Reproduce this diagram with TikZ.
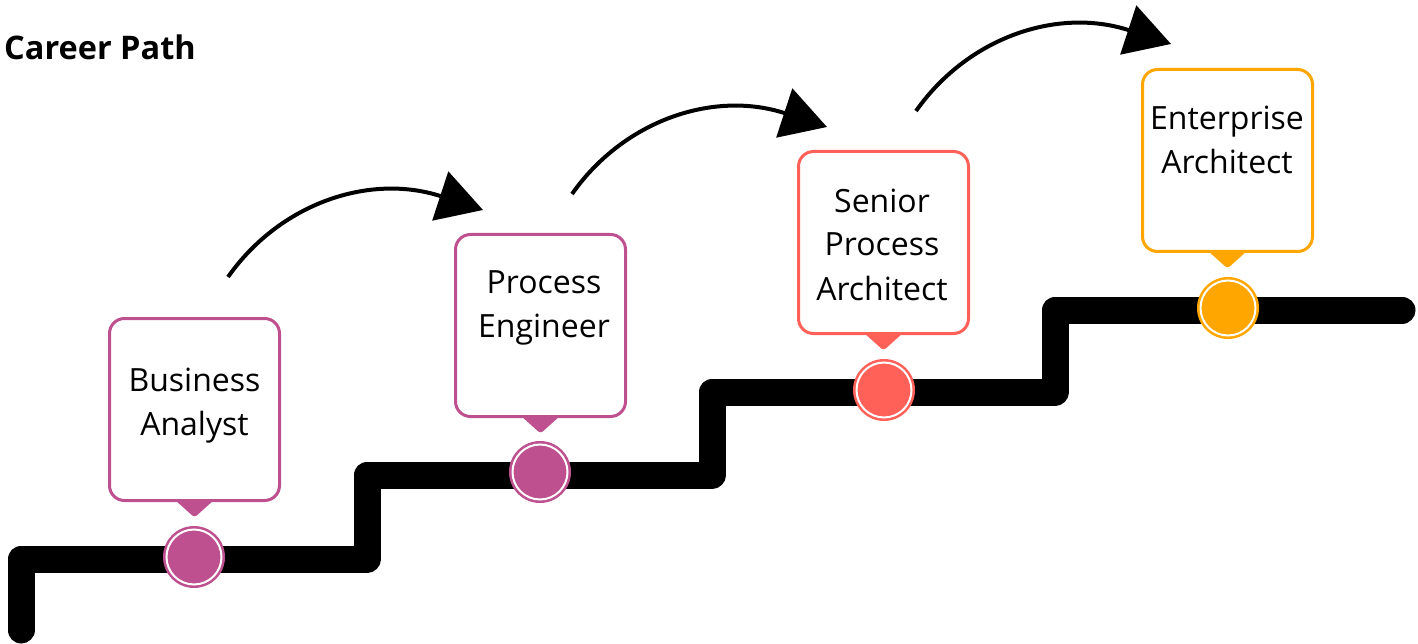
\documentclass[tikz,border=0pt]{standalone}
\usepackage{fontspec}
\setmainfont{Open Sans}
\usetikzlibrary{arrows.meta}
\definecolor{cpurple}{RGB}{190,80,144}
\definecolor{ccoral}{RGB}{255,97,89}
\definecolor{corange}{RGB}{255,166,0}
\begin{document}
\begin{tikzpicture}[x=1pt,y=-1pt,
  stair/.style={line width=27pt, line cap=round, line join=round},
  careerbox/.style={draw=#1, line width=3pt, fill=white, rounded corners=15pt,
    minimum width=170pt, minimum height=182pt, inner sep=0pt, outer sep=0pt},
  boxtext/.style={font=\fontsize{32}{44}\selectfont, align=center, anchor=base, inner sep=0pt},
  dot/.style={circle, fill=#1, minimum size=62pt, inner sep=0pt,
    path picture={\draw[white, line width=2pt] (path picture bounding box.center) circle (27.5pt);}},
  pointer/.style={fill=#1, rounded corners=3pt},
  jump/.style={line width=4pt, -{Triangle[length=45pt, width=51pt]}}
]
\useasboundingbox (0,0) rectangle (1418,644);
\fill[white] (0,0) rectangle (1418,644);

% title
\node[font=\bfseries\fontsize{32.5}{38}\selectfont, anchor=base west, inner sep=0pt] (title) at (4,60) {Career Path};

% stair line
\coordinate (s0) at (21,630);
\coordinate (s1) at (21,559);
\coordinate (s2) at (367,559);
\coordinate (s3) at (367,475);
\coordinate (s4) at (712,475);
\coordinate (s5) at (712,392);
\coordinate (s6) at (1055,392);
\coordinate (s7) at (1055,310);
\coordinate (s8) at (1402,310);
\draw[stair] (s0) -- (s1) -- (s2) -- (s3) -- (s4) -- (s5) -- (s6) -- (s7) -- (s8);

% boxes
\node[careerbox=cpurple] (b1) at (194.5,409.5) {};
\node[careerbox=cpurple] (b2) at (540.5,325.5) {};
\node[careerbox=ccoral]  (b3) at (883.5,242.5) {};
\node[careerbox=corange] (b4) at (1227.5,160.5) {};

\node[boxtext] (t1) at (194.5,435) {Business\\Analyst};
\node[boxtext] (t2) at (544,337) {Process\\Engineer};
\node[boxtext] (t3) at (882,300) {Senior\\Process\\Architect};
\node[boxtext] (t4) at (1227,174) {Enterprise\\Architect};

% pointers
\fill[pointer=cpurple] ([xshift=-20pt,yshift=1pt]b1.south) -- ++(40,0) -- ++(-20,18) -- cycle;
\fill[pointer=cpurple] ([xshift=-20pt,yshift=1pt]b2.south) -- ++(40,0) -- ++(-20,18) -- cycle;
\fill[pointer=ccoral]  ([xshift=-20pt,yshift=1pt]b3.south) -- ++(40,0) -- ++(-20,18) -- cycle;
\fill[pointer=corange] ([xshift=-20pt,yshift=1pt]b4.south) -- ++(40,0) -- ++(-20,18) -- cycle;

% dots
\node[dot=cpurple] (c1) at (194,557) {};
\node[dot=cpurple] (c2) at (540,472) {};
\node[dot=ccoral]  (c3) at (884,390) {};
\node[dot=corange] (c4) at (1228,308) {};

% arrows
\coordinate (a1s) at (228,277);
\coordinate (a1e) at (483,210);
\coordinate (a2s) at (572,194);
\coordinate (a2e) at (827,127);
\coordinate (a3s) at (916,111);
\coordinate (a3e) at (1171,44);
\draw[jump] (a1s) .. controls (280,203) and (370,173) .. (a1e);
\draw[jump] (a2s) .. controls (624,120) and (714,90) .. (a2e);
\draw[jump] (a3s) .. controls (968,37) and (1058,7) .. (a3e);
\end{tikzpicture}
\end{document}
